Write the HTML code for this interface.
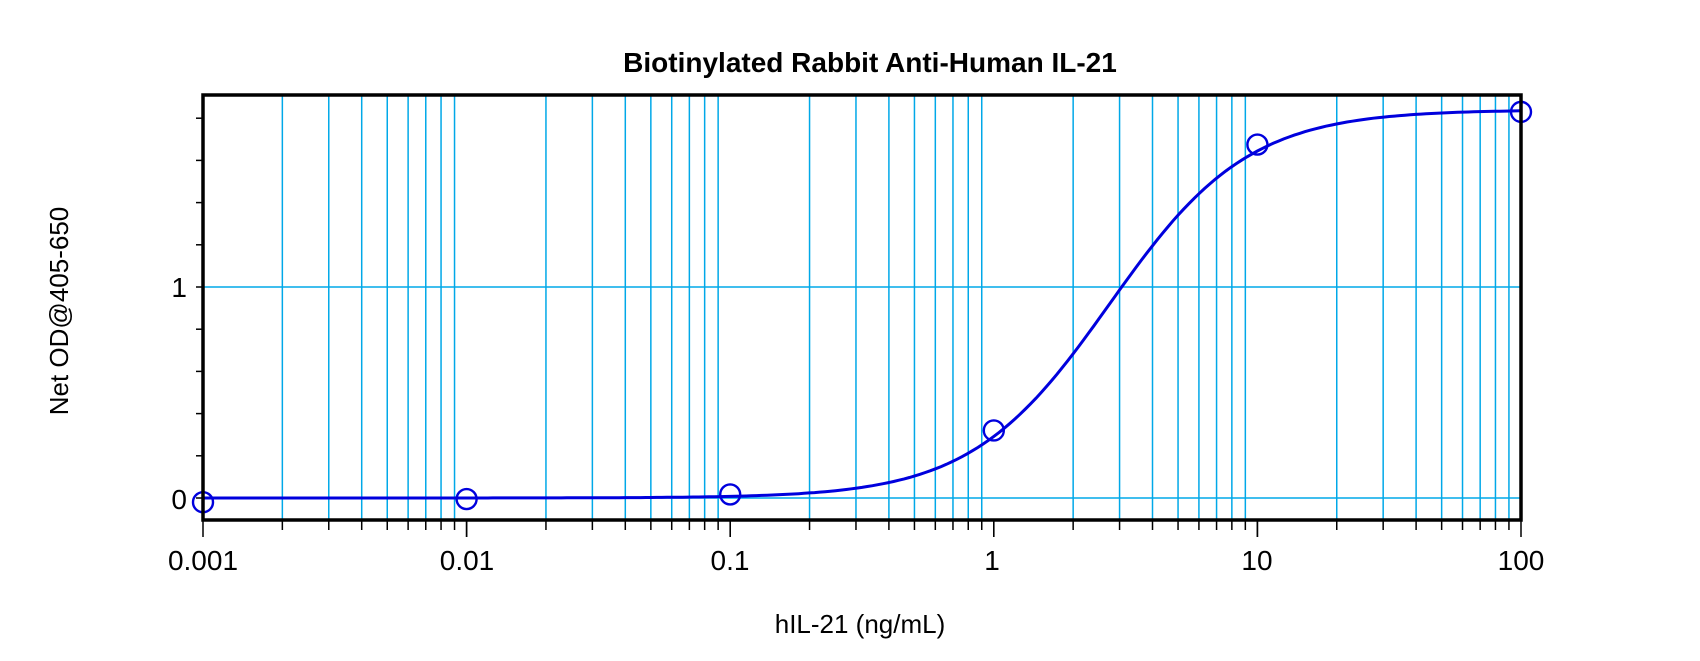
<!DOCTYPE html>
<html><head><meta charset="utf-8"><style>
html,body{margin:0;padding:0;background:#fff;}
svg{display:block;font-family:"Liberation Sans",Arial,sans-serif;}
</style></head><body>
<svg id="s" width="1700" height="661" xmlns="http://www.w3.org/2000/svg">
<rect width="1700" height="661" fill="#fff"/>
<g id="grid"></g>
<text x="870" y="72" font-size="28" font-weight="bold" text-anchor="middle">Biotinylated Rabbit Anti-Human IL-21</text>
<text transform="translate(68,311) rotate(-90)" font-size="26" text-anchor="middle">Net OD@405-650</text>
<text x="860" y="633" font-size="26" text-anchor="middle">hIL-21 (ng/mL)</text>
<g font-size="28" text-anchor="end">
<text x="187" y="297">1</text>
<text x="187" y="509">0</text>
</g>
<g font-size="28" text-anchor="middle">
<text x="203" y="570">0.001</text>
<text x="467" y="570">0.01</text>
<text x="730" y="570">0.1</text>
<text x="992" y="570">1</text>
<text x="1257" y="570">10</text>
<text x="1521" y="570">100</text>
</g>
<g id="curve"></g>
<rect x="203" y="95" width="1318" height="425" fill="none" stroke="#000" stroke-width="3.5"/>
</svg>
<script>
var L=203,D=263.6,Y0=498,U=211;
function X(v){return L+(Math.log10(v)+3)*D;}
function Y(v){return Y0-v*U;}
var g=document.getElementById('grid'),h='';
for(var e=-3;e<2;e++){for(var k=1;k<=10;k++){var v=k*Math.pow(10,e);var x=X(v);
 if(k>1&&k<10)h+='<line x1="'+x+'" y1="95" x2="'+x+'" y2="520" stroke="#00a8e8" stroke-width="1.5"/>';
 h+='<line x1="'+x+'" y1="520" x2="'+x+'" y2="'+((k==1||k==10)?537:530)+'" stroke="#000" stroke-width="1.5"/>';}}
h+='<line x1="203" y1="'+Y(1)+'" x2="1521" y2="'+Y(1)+'" stroke="#00a8e8" stroke-width="1.5"/>';
h+='<line x1="203" y1="'+Y(0)+'" x2="1521" y2="'+Y(0)+'" stroke="#00a8e8" stroke-width="1.5"/>';
for(var i=0;i<=1.81;i+=0.2){var yy=Y(i);h+='<line x1="196" y1="'+yy+'" x2="203" y2="'+yy+'" stroke="#000" stroke-width="1.5"/>';}
g.innerHTML=h;
var c='',p='M';
for(var t=-3;t<=2.0001;t+=0.02){var v=Math.pow(10,t);var y=1.84/(1+Math.pow(2.75/v,1.65));p+=X(v).toFixed(1)+','+Y(y).toFixed(1)+' L';}
p=p.slice(0,-2);
c+='<path d="'+p+'" fill="none" stroke="#0000dd" stroke-width="3"/>';
var pts=[[0.001,-0.02],[0.01,-0.005],[0.1,0.017],[1,0.32],[10,1.675],[100,1.83]];
pts.forEach(function(q){c+='<circle cx="'+X(q[0])+'" cy="'+Y(q[1])+'" r="10" fill="none" stroke="#0000dd" stroke-width="2.4"/>';});
document.getElementById('curve').innerHTML=c;
</script>
</body></html>
